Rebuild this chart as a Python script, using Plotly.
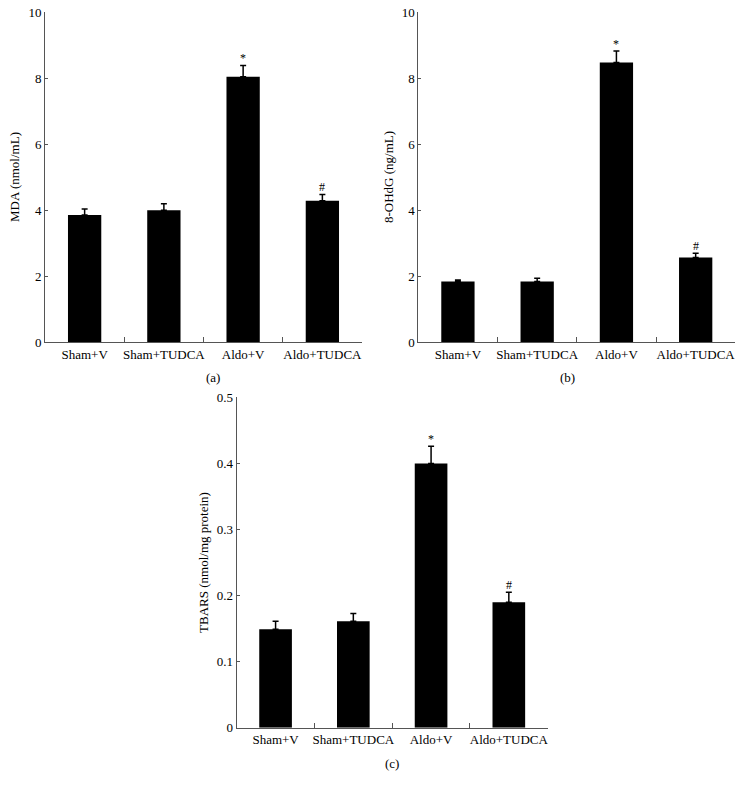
import plotly.graph_objects as go

groups = ["Sham+V", "Sham+TUDCA", "Aldo+V", "Aldo+TUDCA"]

mda_mean = [3.85, 3.99, 8.04, 4.28]
mda_err = [0.18, 0.20, 0.34, 0.19]
mda_marks = ["", "", "*", "#"]

ohdg_mean = [1.83, 1.83, 8.47, 2.56]
ohdg_err = [0.05, 0.10, 0.35, 0.13]
ohdg_marks = ["", "", "*", "#"]

tbars_mean = [0.149, 0.161, 0.400, 0.190]
tbars_err = [0.012, 0.012, 0.026, 0.015]
tbars_marks = ["", "", "*", "#"]

FONT = "Times New Roman, Liberation Serif, serif"
W, H = 743, 787

panels = [
    dict(mean=mda_mean, err=mda_err, marks=mda_marks, ymax=10, dtick=2,
         title="MDA (nmol/mL)", label="(a)",
         x0=45, x1=362, ytop=12, ybot=342),
    dict(mean=ohdg_mean, err=ohdg_err, marks=ohdg_marks, ymax=10, dtick=2,
         title="8-OHdG (ng/mL)", label="(b)",
         x0=418.3, x1=735.3, ytop=12, ybot=342),
    dict(mean=tbars_mean, err=tbars_err, marks=tbars_marks, ymax=0.5, dtick=0.1,
         title="TBARS (nmol/mg protein)", label="(c)",
         x0=236.7, x1=547.7, ytop=397.3, ybot=727.7),
]

fig = go.Figure()
annotations = []
for i, p in enumerate(panels):
    n = "" if i == 0 else str(i + 1)
    xa, ya = "x" + n, "y" + n
    fig.add_trace(go.Bar(
        x=groups, y=p["mean"], xaxis=xa, yaxis=ya,
        marker=dict(color="black", line=dict(width=0)),
        width=0.42,
        error_y=dict(type="data", array=p["err"], arrayminus=[0] * 4,
                     symmetric=False, color="black", thickness=1.5, width=3),
        showlegend=False, hoverinfo="skip",
    ))
    for g, m, e, s in zip(groups, p["mean"], p["err"], p["marks"]):
        if s:
            annotations.append(dict(
                x=g, y=m + e, xref=xa, yref=ya, text=s,
                showarrow=False, font=dict(family=FONT, size=12, color="black"),
                yanchor="bottom", yshift=-2,
            ))
    xd = [p["x0"] / W, p["x1"] / W]
    yd = [1 - p["ybot"] / H, 1 - p["ytop"] / H]
    axis_common = dict(showline=True, linecolor="#555555", linewidth=1,
                       tickcolor="#555555", ticks="inside",
                       showgrid=False, zeroline=False,
                       tickfont=dict(family=FONT, size=13, color="black"))
    fig.layout["xaxis" + n] = dict(domain=xd, anchor=ya, type="category",
                                   tickson="boundaries", ticklen=5, tickangle=0,
                                   **axis_common)
    fig.layout["yaxis" + n] = dict(domain=yd, anchor=xa, range=[0, p["ymax"]],
                                   dtick=p["dtick"], tick0=0, ticklen=3,
                                   ticklabeloverflow="allow",
                                   title=dict(text=p["title"],
                                              font=dict(family=FONT, size=13, color="black"),
                                              standoff=5),
                                   **axis_common)
    annotations.append(dict(
        x=(p["x0"] + p["x1"]) / 2 / W, y=1 - (p["ybot"] + 36) / H,
        xref="paper", yref="paper", text=p["label"], showarrow=False,
        font=dict(family=FONT, size=13, color="black"), yanchor="middle",
    ))

fig.update_layout(
    template="none",
    font=dict(family=FONT, size=13, color="black"),
    width=W, height=H, margin=dict(l=0, r=0, t=0, b=0),
    plot_bgcolor="white", paper_bgcolor="white",
    annotations=annotations,
)
fig.write_html(
    "out.html",
    config={"displayModeBar": False, "staticPlot": True},
    post_script="document.body.style.margin='0';document.body.style.overflow='hidden';",
)
